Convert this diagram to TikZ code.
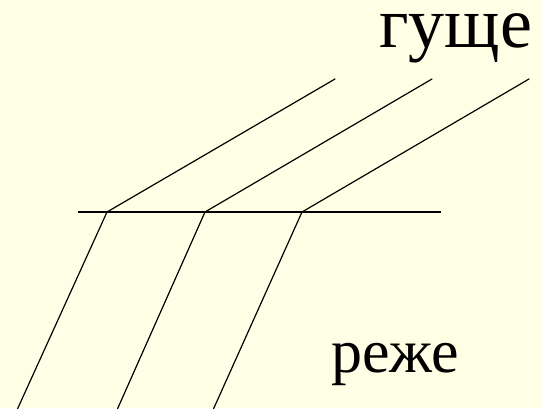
\documentclass[tikz,border=0pt]{standalone}
\usepackage{fontspec}
\setmainfont{Liberation Serif}
\usetikzlibrary{positioning}
\definecolor{figFondo}{RGB}{255,255,230}
\tikzset{
  luz/.style={line width=1.2pt, draw=black, line cap=round},
  borde/.style={line width=1.2pt, draw=black},
  medio/.style={anchor=base west, inner sep=0pt, font=\fontsize{62}{62}\selectfont}
}
\begin{document}
\begin{tikzpicture}[x=1pt, y=-1pt]
  \fill[figFondo] (0,0) rectangle (541,408);
  \useasboundingbox (0,0) rectangle (541,408);
  \node[medio, font=\fontsize{72}{72}\selectfont] (g) at (379,47) {гуще};
  \node[medio] (r) at (331,372) {реже};
  \coordinate (bi) at (78,212);
  \coordinate (bd) at (441,212);
  \draw[borde] (bi) -- (bd);
  \coordinate (k1) at (107,212);
  \coordinate (k2) at (205,212);
  \coordinate (k3) at (302,212);
  \coordinate (a1) at (335,79);
  \coordinate (a2) at (432,79);
  \coordinate (a3) at (529,79);
  \coordinate (b1) at (17,410);
  \coordinate (b2) at (117,410);
  \coordinate (b3) at (213,410);
  \foreach \i in {1,2,3} {
    \draw[luz] (a\i) -- (k\i) -- (b\i);
  }
\end{tikzpicture}
\end{document}
